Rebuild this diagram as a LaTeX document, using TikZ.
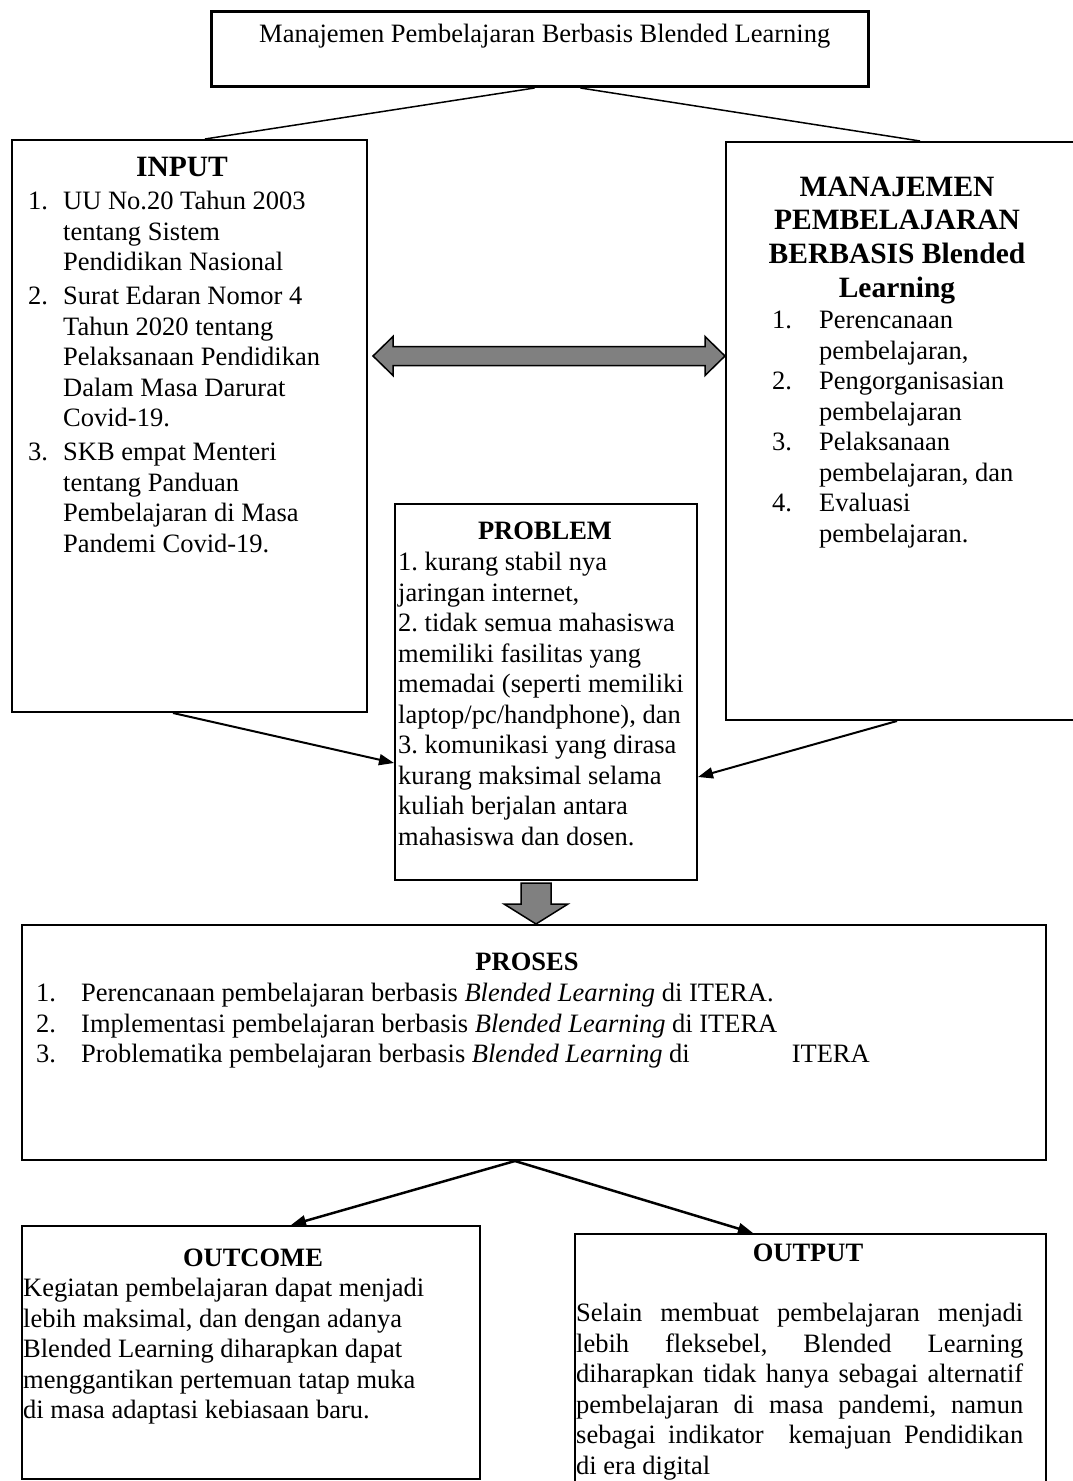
\documentclass[tikz,border=0pt]{standalone}
\usepackage{fontspec}
\setmainfont{Liberation Serif}
\usetikzlibrary{arrows.meta,calc,positioning}
\definecolor{arrowgray}{RGB}{128,128,128}
\newcommand*{\boxtextfont}{\fontsize{26.5}{30.5}\selectfont}
\newcommand*{\boxtitlefont}{\fontsize{29.5}{33.7}\selectfont\bfseries}
\frenchspacing

\begin{document}
\begin{tikzpicture}[x=1pt, y=-1pt,
    box/.style={draw, line width=2pt, inner sep=0pt, anchor=north west},
    txt/.style={inner sep=0pt, anchor=north west, font=\boxtextfont},
    head/.style={inner sep=0pt, anchor=base, font=\boxtextfont\bfseries},
    link/.style={line width=1.5pt},
    arr/.style={line width=2pt, -{Triangle[length=15pt, width=11pt]}},
    fat/.style={draw, line width=1.5pt, fill=arrowgray}]
  \useasboundingbox (0,0) rectangle (1073,1481);

  \node[box, line width=3pt, minimum width=657pt, minimum height=75pt] (top) at (210,10) {};
  \node[txt, anchor=base west] (toptext) at (259,42) {Manajemen Pembelajaran Berbasis Blended Learning};

  \node[box, minimum width=355pt, minimum height=572pt] (input) at (11,139) {};
  \node[head, font=\boxtitlefont] (inputhead) at (182,176) {INPUT};
  \node[txt] (inputlist) at (28,188) {\begin{tabular}{@{}p{35pt}@{}l@{}}
    1. & UU No.20 Tahun 2003\\
       & tentang Sistem\\
       & Pendidikan Nasional\\[3.5pt]
    2. & Surat Edaran Nomor 4\\
       & Tahun 2020 tentang\\
       & Pelaksanaan Pendidikan\\
       & Dalam Masa Darurat\\
       & Covid-19.\\[3.5pt]
    3. & SKB empat Menteri\\
       & tentang Panduan\\
       & Pembelajaran di Masa\\
       & Pandemi Covid-19.
  \end{tabular}};

  \node[box, minimum width=360pt, minimum height=578pt] (mgmt) at (725,141) {};
  \node[inner sep=0pt, anchor=north, font=\boxtitlefont] (mgmthead) at (897,172.4) {\begin{tabular}{@{}c@{}}
    MANAJEMEN\\ PEMBELAJARAN\\ BERBASIS Blended\\ Learning
  \end{tabular}};
  \node[txt] (mgmtlist) at (772,307) {\begin{tabular}{@{}p{47pt}@{}l@{}}
    1. & Perencanaan\\
       & pembelajaran,\\
    2. & Pengorganisasian\\
       & pembelajaran\\
    3. & Pelaksanaan\\
       & pembelajaran, dan\\
    4. & Evaluasi\\
       & pembelajaran.
  \end{tabular}};

  \draw[link] ($(top.south)+(-5.5,0)$) -- ($(input.north west)+(194,0)$);
  \draw[link] ($(top.south)+(40.5,0)$) -- ($(mgmt.north west)+(195,0)$);

  \coordinate (dl) at (373,356);
  \coordinate (dr) at (mgmt.west |- dl);
  \draw[fat] (dl) -- ++(20,-19.5) -- ++(0,10) -- ($(dr)+(-20,-9.5)$) -- ++(0,-10) -- (dr)
    -- ++(-20,19.5) -- ++(0,-10) -- ($(dl)+(20,9.5)$) -- ++(0,10) -- cycle;

  \node[box, minimum width=302pt, minimum height=376pt] (problem) at (394,503) {};
  \node[head] (problemhead) at (545,539) {PROBLEM};
  \node[txt] (problemtext) at (398,549) {\begin{tabular}{@{}l@{}}
    1. kurang stabil nya\\
    jaringan internet,\\
    2. tidak semua mahasiswa\\
    memiliki fasilitas yang\\
    memadai (seperti memiliki\\
    laptop/pc/handphone), dan\\
    3. komunikasi yang dirasa\\
    kurang maksimal selama\\
    kuliah berjalan antara\\
    mahasiswa dan dosen.
  \end{tabular}};

  \draw[arr] ($(input.south west)+(162,0)$) -- ($(problem.north west)+(0,260)$);
  \draw[arr] ($(mgmt.south west)+(172,0)$) -- ($(problem.north east)+(0,274)$);

  \node[box, minimum width=1024.5pt, minimum height=235pt] (proses) at (20.5,924) {};
  \node[head] (proseshead) at (527,970) {PROSES};
  \node[txt] (proseslist) at (36,980) {\begin{tabular}{@{}p{45pt}@{}l@{}}
    1. & Perencanaan pembelajaran berbasis \textit{Blended Learning} di ITERA.\\
    2. & Implementasi pembelajaran berbasis \textit{Blended Learning} di ITERA\\
    3. & Problematika pembelajaran berbasis \textit{Blended Learning} di\hspace{102pt}ITERA
  \end{tabular}};

  \coordinate (dtip) at ($(proses.north west)+(515.5,0)$);
  \draw[fat] (dtip) -- ++(32,-20) -- ++(-17,0) -- ++(0,-21) -- ++(-30,0) -- ++(0,21) -- ++(-17,0) -- cycle;

  \node[box, minimum width=458.5pt, minimum height=253pt] (outcome) at (20.5,1225) {};
  \node[head] (outcomehead) at (253,1266) {OUTCOME};
  \node[txt] (outcometext) at (23,1275) {\begin{tabular}{@{}l@{}}
    Kegiatan pembelajaran dapat menjadi\\
    lebih maksimal, dan dengan adanya\\
    Blended Learning diharapkan dapat\\
    menggantikan pertemuan tatap muka\\
    di masa adaptasi kebiasaan baru.
  \end{tabular}};

  \node[box, minimum width=471.5pt, minimum height=290pt] (output) at (573.5,1233) {};
  \node[head] (outputhead) at (808,1261) {OUTPUT};
  \node[txt] (outputtext) at (576,1300) {\begin{tabular}{@{}l@{}}
    \makebox[447pt][s]{Selain membuat pembelajaran menjadi}\\
    \makebox[447pt][s]{lebih fleksebel, Blended Learning}\\
    \makebox[447pt][s]{diharapkan tidak hanya sebagai alternatif}\\
    \makebox[447pt][s]{pembelajaran di masa pandemi, namun}\\
    \makebox[447pt][s]{sebagai indikator\ \ kemajuan Pendidikan}\\
    di era digital
  \end{tabular}};

  \draw[arr, line width=2.5pt] ($(proses.south west)+(494.5,0)$) -- ($(outcome.north west)+(270.5,0)$);
  \draw[arr, line width=2.5pt] ($(proses.south west)+(494.5,0)$) -- ($(output.north west)+(179.5,0)$);
\end{tikzpicture}
\end{document}
